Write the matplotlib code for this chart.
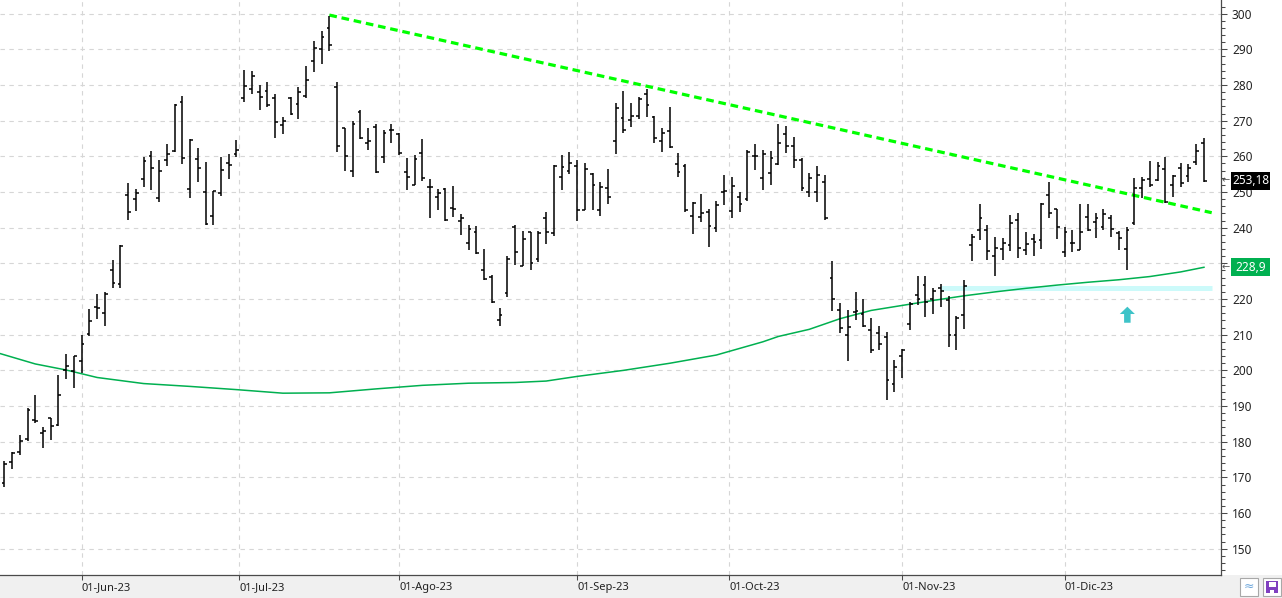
import numpy as np
import pandas as pd
import matplotlib
matplotlib.use("Agg")
import matplotlib.pyplot as plt
from matplotlib.patches import Rectangle, Polygon
from matplotlib.ticker import MultipleLocator
from matplotlib.transforms import blended_transform_factory

plt.rcParams['font.family'] = ['Noto Sans', 'DejaVu Sans']

# ---------------- data ----------------
holidays = ["2023-05-29", "2023-06-19", "2023-07-04", "2023-09-04", "2023-11-23", "2023-12-25"]
dates = pd.bdate_range("2023-05-17", "2023-12-28", freq="C", holidays=holidays)

opens = [168.41, 174.22, 177.17, 180.70, 186.20, 182.56, 186.54, 184.62, 200.10, 199.78,
         202.59, 210.15, 217.80, 216.14, 228.00, 224.22, 249.07, 247.94, 253.51, 260.17,
         248.40, 258.92, 261.50, 275.13, 250.77, 259.29, 250.07, 243.24, 249.70, 258.03,
         260.60, 276.49, 278.82, 278.09, 278.43, 276.47, 268.65, 276.33, 274.59, 277.01,
         286.63, 290.15, 296.04, 279.56, 268.00, 255.85, 272.38, 263.66, 268.31, 259.86,
         267.48, 266.26, 255.52, 252.04, 260.97, 251.45, 248.60, 250.87, 245.40, 241.77,
         235.70, 238.73, 228.02, 226.06, 214.12, 221.55, 240.25, 229.34, 238.66, 231.31,
         242.58, 238.58, 254.20, 255.98, 257.26, 245.00, 255.14, 245.07, 251.22, 264.27,
         270.76, 270.07, 271.32, 277.55, 271.16, 264.35, 267.04, 257.85, 257.40, 243.38,
         242.98, 244.26, 240.02, 250.00, 244.81, 248.61, 248.14, 260.00, 253.98, 255.31,
         257.75, 266.20, 262.92, 258.90, 250.05, 250.10, 252.70, 225.95, 217.01, 210.00,
         216.50, 215.88, 211.32, 210.60, 209.28, 196.12, 204.04, 212.97, 221.15, 223.98,
         219.98, 223.15, 219.75, 210.03, 215.60, 235.03, 239.29, 239.49, 232.00, 234.04,
         235.04, 242.04, 233.75, 236.89, 236.68, 249.21, 245.14, 233.14, 235.75, 233.87,
         242.92, 241.55, 240.27, 242.74, 238.55, 234.15, 241.22, 251.21, 253.78, 253.48,
         256.41, 251.90, 256.76, 254.49, 258.35, 263.66]
highs = [174.50, 177.06, 181.95, 189.32, 192.96, 184.22, 186.78, 198.60, 204.48, 203.95,
         209.80, 217.25, 221.29, 221.91, 230.83, 235.23, 252.42, 250.97, 259.68, 261.57,
         258.95, 263.60, 274.75, 276.99, 265.00, 262.45, 258.37, 250.39, 259.88, 260.74,
         264.45, 284.25, 283.85, 279.97, 280.78, 277.52, 270.90, 276.52, 279.45, 285.30,
         292.23, 295.26, 299.29, 280.93, 268.00, 269.85, 272.90, 268.04, 269.13, 267.25,
         269.08, 266.47, 259.52, 260.49, 264.77, 253.65, 250.90, 251.10, 251.80, 243.79,
         240.66, 240.50, 233.97, 226.74, 217.58, 232.13, 240.82, 238.98, 238.92, 239.00,
         244.38, 257.48, 260.51, 261.18, 259.08, 258.00, 255.39, 252.81, 256.52, 274.85,
         278.39, 274.98, 276.71, 278.98, 271.44, 267.85, 273.93, 260.86, 257.79, 247.10,
         249.55, 245.33, 247.55, 254.77, 254.28, 250.02, 261.86, 263.60, 261.65, 261.36,
         268.94, 268.60, 265.41, 259.60, 255.40, 257.18, 254.63, 230.61, 218.86, 216.98,
         222.05, 220.10, 214.80, 212.41, 210.88, 202.80, 205.99, 219.20, 226.37, 226.32,
         223.12, 224.15, 220.80, 215.38, 225.40, 238.14, 246.70, 240.88, 237.39, 237.10,
         243.62, 244.01, 238.75, 238.33, 247.00, 252.75, 245.22, 240.19, 239.37, 246.66,
         246.57, 244.08, 245.27, 243.44, 238.99, 240.30, 253.88, 254.13, 258.74, 258.34,
         259.84, 254.80, 258.22, 257.97, 263.34, 265.13]
lows = [167.19, 172.45, 176.31, 180.11, 185.26, 178.22, 180.58, 184.53, 197.53, 195.12,
        199.37, 209.75, 214.52, 212.53, 223.20, 223.01, 242.02, 244.59, 251.34, 250.50,
        247.29, 257.21, 261.12, 257.78, 248.43, 252.80, 240.70, 240.85, 248.89, 253.61,
        259.89, 275.11, 277.60, 272.88, 273.77, 265.10, 266.37, 271.46, 270.60, 276.31,
        283.57, 286.01, 289.52, 261.20, 255.80, 254.12, 265.00, 261.75, 255.30, 258.23,
        263.78, 260.25, 250.49, 252.00, 253.11, 242.76, 245.01, 241.90, 243.00, 238.02,
        233.75, 232.61, 225.38, 218.83, 212.36, 220.58, 229.55, 229.29, 228.18, 230.35,
        235.35, 237.77, 250.59, 255.05, 242.01, 244.86, 245.06, 243.27, 246.67, 260.61,
        266.60, 268.10, 270.42, 271.00, 263.76, 261.20, 262.46, 254.21, 244.48, 238.31,
        241.60, 234.58, 238.65, 246.35, 242.62, 244.45, 247.60, 256.25, 250.65, 252.05,
        257.65, 260.90, 256.63, 250.22, 248.48, 247.08, 242.08, 216.78, 210.42, 202.51,
        214.11, 212.20, 204.88, 205.77, 191.80, 194.07, 197.85, 211.45, 218.40, 215.00,
        215.72, 217.64, 206.68, 205.69, 211.61, 230.72, 236.45, 230.96, 226.54, 231.02,
        233.34, 231.40, 232.33, 232.10, 234.01, 242.76, 236.91, 231.90, 233.29, 233.70,
        239.17, 236.98, 239.27, 237.45, 233.87, 228.20, 240.79, 248.30, 251.36, 253.01,
        247.00, 248.55, 251.37, 252.91, 257.52, 252.71]
closes = [173.86, 176.89, 180.14, 188.87, 185.77, 182.90, 184.47, 193.17, 201.16, 203.93,
          207.52, 213.97, 217.61, 221.31, 224.57, 234.86, 244.40, 249.83, 258.71, 256.79,
          255.90, 260.54, 274.45, 259.46, 264.61, 256.60, 241.05, 250.21, 256.24, 257.50,
          261.77, 279.82, 282.48, 276.54, 274.43, 269.61, 269.79, 271.99, 277.90, 281.38,
          290.38, 293.34, 291.26, 262.90, 260.02, 269.06, 265.28, 264.35, 255.71, 266.44,
          267.43, 261.07, 254.11, 259.32, 253.86, 251.45, 249.70, 242.19, 245.34, 242.65,
          239.76, 232.96, 225.60, 219.22, 215.49, 231.28, 233.19, 236.86, 230.04, 238.59,
          238.82, 257.18, 256.90, 258.08, 245.01, 256.49, 251.92, 251.49, 248.50, 273.58,
          267.48, 271.30, 276.04, 274.39, 265.28, 266.50, 262.59, 255.70, 244.88, 246.99,
          244.12, 240.50, 246.38, 250.22, 251.60, 246.53, 261.16, 260.05, 260.53, 259.67,
          263.62, 262.99, 258.87, 251.12, 253.92, 254.85, 242.68, 220.11, 211.99, 212.08,
          216.52, 212.42, 205.76, 207.30, 197.36, 200.84, 205.66, 218.51, 219.96, 219.27,
          222.18, 222.11, 209.98, 214.65, 223.71, 237.41, 242.84, 233.59, 234.30, 235.60,
          241.20, 234.21, 235.45, 236.08, 246.72, 244.14, 240.08, 238.83, 235.58, 238.72,
          239.37, 242.64, 243.84, 239.74, 237.01, 239.29, 251.05, 253.50, 252.08, 257.22,
          247.14, 254.50, 252.54, 256.61, 261.44, 253.18]

# moving average (bar index, value)
ma_idx = [-1, 4, 8, 12, 18, 24, 30, 36, 42, 48, 54, 60, 66, 70, 74, 80, 86, 92, 98, 100,
          104, 108, 112, 116, 120, 124, 128, 132, 136, 140, 144, 148, 152, 155]
ma_val = [205.0, 201.8, 200.1, 198.0, 196.3, 195.5, 194.6, 193.6, 193.7, 194.8, 195.8, 196.4,
          196.6, 197.0, 198.3, 200.0, 202.0, 204.3, 208.0, 209.5, 211.5, 214.5, 216.8, 218.2,
          219.6, 220.9, 222.0, 223.0, 223.9, 224.7, 225.4, 226.3, 227.6, 228.9]

trend_idx = [42, 156]
trend_val = [299.6, 244.2]

support_idx = [121, 156]
support_level = 223.1

signal_idx = 145.1
signal_base, signal_neck, signal_tip = 213.35, 215.8, 217.85

month_dates = ["2023-06-01", "2023-07-01", "2023-08-01", "2023-09-01",
               "2023-10-01", "2023-11-01", "2023-12-01"]
month_labels = ["01-Jun-23", "01-Jul-23", "01-Ago-23", "01-Sep-23",
                "01-Oct-23", "01-Nov-23", "01-Dic-23"]

y_ticks = list(range(150, 301, 10))
y_hidden = [230]          # covered by the moving-average price box

last_label = "253,18"
ma_label = "228,9"
ma_last = 228.9

# ---------------- figure ----------------
W, H = 1282, 598
fig = plt.figure(figsize=(W / 100, H / 100), dpi=100)
fig.patch.set_facecolor('white')

def fx(px):
    return px / W

def fy(py):
    return 1 - py / H

plot_right = 1221
plot_bottom = 575
ax = fig.add_axes([0, fy(plot_bottom), fx(plot_right), plot_bottom / H])

x = np.arange(len(dates))
ax.set_xlim(-0.556, 157.2)
ax.set_ylim(142.63, 303.83)

# grid
ax.set_axisbelow(True)
ax.grid(True, which='major', color='#D6D6D6', linestyle=(0, (4, 4)), lw=0.8)

# support band
ax.plot(support_idx, [support_level] * 2, color='#CCFAFA', lw=3.6, solid_capstyle='butt', zorder=1.5)
# moving average
ax.plot(ma_idx, ma_val, color='#00B050', lw=1.1, zorder=2)
# trend line
ax.plot(trend_idx, trend_val, color='#00FF00', lw=2.3, linestyle=(0, (2.4, 1.5)), zorder=2.5)

# OHLC bars
tick = 0.36
ax.vlines(x, lows, highs, color='black', lw=1.1, zorder=3)
ax.hlines(opens, x - tick, x, color='black', lw=1.1, zorder=3)
ax.hlines(closes, x, x + tick, color='black', lw=1.1, zorder=3)

# signal arrow
hw, sw = 0.97, 0.42
arrow = Polygon([(signal_idx, signal_tip), (signal_idx + hw, signal_neck), (signal_idx + sw, signal_neck),
                 (signal_idx + sw, signal_base), (signal_idx - sw, signal_base),
                 (signal_idx - sw, signal_neck), (signal_idx - hw, signal_neck)],
                closed=True, facecolor='#3EC3C8', edgecolor='none', zorder=3)
ax.add_patch(arrow)

# spines
for s in ['top', 'left']:
    ax.spines[s].set_visible(False)
ax.spines['right'].set_color('#4A4A4A')
ax.spines['right'].set_linewidth(0.9)
ax.spines['bottom'].set_color('#4A4A4A')
ax.spines['bottom'].set_linewidth(0.9)

# y axis on the right
ax.yaxis.tick_right()
ax.set_yticks(y_ticks)
ax.set_yticklabels(['' if v in y_hidden else str(v) for v in y_ticks])
ax.yaxis.set_minor_locator(MultipleLocator(2))
ax.tick_params(axis='y', which='major', length=4.4, width=0.75, color='#4A4A4A',
               pad=3.5, labelsize=8.5, labelcolor='#222222')
ax.tick_params(axis='y', which='minor', length=2.6, width=0.75, color='#4A4A4A')

# x axis month ticks
dn = dates.values.astype('int64')
mpos = np.interp(pd.to_datetime(month_dates).values.astype('int64'), dn, x)
ax.set_xticks(mpos)
ax.set_xticklabels(month_labels)
ax.tick_params(axis='x', which='major', length=3.8, width=0.75, color='#4A4A4A',
               pad=1.2, labelsize=8, labelcolor='#222222')
for lab in ax.get_xticklabels():
    lab.set_ha('left')

# bottom strip
fig.add_artist(Rectangle((0, 0), 1, fy(plot_bottom), transform=fig.transFigure,
                         facecolor='#F0F0F0', edgecolor='none', zorder=-1))

# price labels on the right axis
tr = blended_transform_factory(fig.transFigure, ax.transData)
box_h = 18 / 3.567
for val, txt, col in [(closes[-1], last_label, '#000000'), (ma_last, ma_label, '#00B050')]:
    r = Rectangle((fx(1231), val - box_h / 2), fx(39), box_h, transform=tr,
                  facecolor=col, edgecolor='none', zorder=5, clip_on=False)
    fig.add_artist(r)
    fig.text(fx(1250.5), 0, txt, transform=tr, color='white', fontsize=8.5,
             ha='center', va='center', zorder=6).set_y(val)
    fig.text(fx(1222), 0, '←', transform=tr, color='#555555', fontsize=7,
             family='DejaVu Sans', ha='left', va='center', zorder=6).set_y(val)

# small icons bottom-right
fig.add_artist(Rectangle((fx(1240), fy(596)), fx(18), 18 / H, transform=fig.transFigure,
                         facecolor='white', edgecolor='#A8A8A8', lw=0.8))
fig.text(fx(1249), fy(586.5), '≈', color='#6FA8DC', fontsize=9, family='DejaVu Sans',
         ha='center', va='center')
fig.add_artist(Rectangle((fx(1263), fy(596)), fx(18), 18 / H, transform=fig.transFigure,
                         facecolor='white', edgecolor='#A8A8A8', lw=0.8))
fig.add_artist(Rectangle((fx(1266), fy(593)), fx(12), 12 / H, transform=fig.transFigure,
                         facecolor='#8040C0', edgecolor='none'))
fig.add_artist(Rectangle((fx(1268.5), fy(587)), fx(7), 5 / H, transform=fig.transFigure,
                         facecolor='white', edgecolor='none'))
fig.add_artist(Rectangle((fx(1270), fy(593)), fx(4), 3 / H, transform=fig.transFigure,
                         facecolor='white', edgecolor='none'))

fig.savefig('out.png', dpi=100)
